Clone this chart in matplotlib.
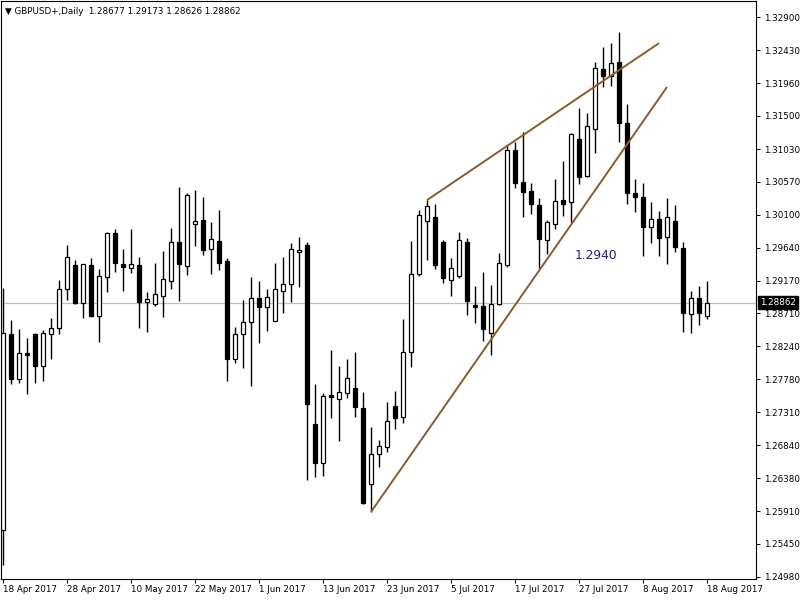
import matplotlib
matplotlib.use("Agg")
import matplotlib.pyplot as plt
import matplotlib.transforms as mtransforms
import numpy as np

# ---- data (GBPUSD+, Daily, 18 Apr 2017 .. 18 Aug 2017, one bar per trading day) ----
opens = [1.2564, 1.2842, 1.2778, 1.2815, 1.2842, 1.2796, 1.2842, 1.2850, 1.2905, 1.2939,
         1.2886, 1.2939, 1.2867, 1.2922, 1.2985, 1.2941, 1.2935, 1.2939, 1.2887, 1.2884,
         1.2895, 1.2917, 1.2972, 1.2938, 1.2997, 1.3003, 1.2962, 1.2973, 1.2945, 1.2806,
         1.2842, 1.2859, 1.2893, 1.2880, 1.2860, 1.2902, 1.2912, 1.2958, 1.2968, 1.2714,
         1.2659, 1.2755, 1.2750, 1.2758, 1.2765, 1.2737, 1.2630, 1.2672, 1.2682, 1.2740,
         1.2724, 1.2816, 1.2927, 1.3001, 1.3007, 1.2972, 1.2918, 1.2924, 1.2972, 1.2883,
         1.2881, 1.2843, 1.2884, 1.2939, 1.3102, 1.3057, 1.3044, 1.3024, 1.2975, 1.2997,
         1.3031, 1.3028, 1.3117, 1.3065, 1.3132, 1.3216, 1.3207, 1.3226, 1.3140, 1.3041,
         1.3035, 1.2993, 1.3004, 1.2979, 1.3001, 1.2963, 1.2870, 1.2893, 1.28677]
highs = [1.2907, 1.2861, 1.2849, 1.2836, 1.2843, 1.2847, 1.2864, 1.2918, 1.2968, 1.2946,
         1.2941, 1.2949, 1.2934, 1.2986, 1.2990, 1.2962, 1.2990, 1.2951, 1.2901, 1.2942,
         1.2959, 1.2992, 1.3050, 1.3041, 1.3045, 1.3035, 1.3000, 1.3017, 1.2949, 1.2852,
         1.2890, 1.2922, 1.2917, 1.2905, 1.2942, 1.2951, 1.2970, 1.2979, 1.2972, 1.2771,
         1.2758, 1.2819, 1.2796, 1.2806, 1.2816, 1.2760, 1.2710, 1.2692, 1.2745, 1.2761,
         1.2863, 1.2973, 1.3017, 1.3031, 1.3026, 1.2975, 1.2949, 1.2986, 1.2977, 1.2910,
         1.2929, 1.2911, 1.2956, 1.3109, 1.3113, 1.3127, 1.3055, 1.3034, 1.3003, 1.3061,
         1.3086, 1.3126, 1.3161, 1.3154, 1.3226, 1.3248, 1.3253, 1.3269, 1.3167, 1.3061,
         1.3055, 1.3028, 1.3016, 1.3034, 1.3024, 1.2972, 1.2902, 1.2910, 1.29173]
lows = [1.2515, 1.2771, 1.2772, 1.2757, 1.2772, 1.2775, 1.2806, 1.2842, 1.2890, 1.2884,
        1.2864, 1.2866, 1.2830, 1.2901, 1.2929, 1.2902, 1.2928, 1.2850, 1.2844, 1.2881,
        1.2866, 1.2905, 1.2888, 1.2925, 1.2966, 1.2953, 1.2927, 1.2932, 1.2775, 1.2801,
        1.2794, 1.2768, 1.2829, 1.2846, 1.2860, 1.2871, 1.2887, 1.2908, 1.2635, 1.2639,
        1.2641, 1.2723, 1.2690, 1.2751, 1.2724, 1.2601, 1.2590, 1.2654, 1.2675, 1.2707,
        1.2716, 1.2795, 1.2924, 1.2946, 1.2934, 1.2914, 1.2895, 1.2921, 1.2869, 1.2857,
        1.2832, 1.2812, 1.2883, 1.2936, 1.3048, 1.3007, 1.3011, 1.2935, 1.2955, 1.2990,
        1.3009, 1.3000, 1.3054, 1.3064, 1.3098, 1.3191, 1.3192, 1.3113, 1.3026, 1.3014,
        1.2952, 1.2970, 1.2952, 1.2941, 1.2958, 1.2844, 1.2843, 1.2854, 1.28626]
closes = [1.2843, 1.2778, 1.2815, 1.2812, 1.2796, 1.2843, 1.2850, 1.2905, 1.2951, 1.2886,
          1.2941, 1.2867, 1.2924, 1.2985, 1.2942, 1.2936, 1.2941, 1.2887, 1.2891, 1.2898,
          1.2919, 1.2972, 1.2941, 1.3038, 1.3001, 1.2960, 1.2976, 1.2942, 1.2806, 1.2842,
          1.2859, 1.2893, 1.2880, 1.2894, 1.2905, 1.2912, 1.2962, 1.2960, 1.2743, 1.2659,
          1.2754, 1.2753, 1.2760, 1.2779, 1.2738, 1.2603, 1.2672, 1.2683, 1.2719, 1.2723,
          1.2816, 1.2927, 1.3010, 1.3023, 1.2939, 1.2921, 1.2935, 1.2975, 1.2888, 1.2880,
          1.2849, 1.2884, 1.2942, 1.3102, 1.3055, 1.3042, 1.3026, 1.2976, 1.3000, 1.3030,
          1.3026, 1.3125, 1.3064, 1.3136, 1.3218, 1.3207, 1.3225, 1.3140, 1.3041, 1.3035,
          1.2993, 1.3004, 1.2977, 1.3007, 1.2965, 1.2871, 1.2893, 1.2871, 1.28862]

date_tick_bars = [0, 8, 16, 24, 32, 40, 48, 56, 64, 72, 80, 88]
date_tick_labels = ["18 Apr 2017", "28 Apr 2017", "10 May 2017", "22 May 2017",
                    "1 Jun 2017", "13 Jun 2017", "23 Jun 2017", "5 Jul 2017",
                    "17 Jul 2017", "27 Jul 2017", "8 Aug 2017", "18 Aug 2017"]
price_ticks = [1.32900, 1.32430, 1.31960, 1.31500, 1.31030, 1.30570, 1.30100, 1.29640,
               1.29170, 1.28710, 1.28240, 1.27780, 1.27310, 1.26840, 1.26380, 1.25910,
               1.25450, 1.24980]

# trend lines (bar index, price)
trend1_bars = [53, 82]
trend1_prices = [1.3031, 1.3253]
trend2_bars = [46, 83]
trend2_prices = [1.2590, 1.3191]
note_text = "1.2940"
note_bar = 71.4
note_price = 1.2952

bid_price = 1.28862
header = "\u25BC GBPUSD+,Daily  1.28677 1.29173 1.28626 1.28862"

# ---- figure ----
plt.rcParams['font.family'] = ['DejaVu Sans']
fs = 6.3
fig = plt.figure(figsize=(8, 6), dpi=100)
fig.patch.set_facecolor('white')
ax = fig.add_axes([1 / 800, 21 / 600, 755 / 800, 578 / 600])
ax.set_facecolor('white')

o = np.array(opens)
h = np.array(highs)
l = np.array(lows)
c = np.array(closes)
x = np.arange(len(o))
up = c >= o

ax.axhline(bid_price, color='#c0c0c0', lw=0.9, zorder=1)
ax.vlines(x, l, h, color='black', lw=1.0, zorder=2)
ax.bar(x, np.abs(c - o), bottom=np.minimum(o, c), width=0.55,
       color=np.where(up, 'white', 'black'), edgecolor='black', linewidth=0.9, zorder=3)

ax.plot(trend1_bars, trend1_prices, color='#8B5A2B', lw=1.4, zorder=4, solid_capstyle='butt')
ax.plot(trend2_bars, trend2_prices, color='#8B5A2B', lw=1.4, zorder=4, solid_capstyle='butt')
ax.text(note_bar, note_price, note_text, color='#1c1c80', fontsize=8.8, ha='left', va='center', zorder=5)

ax.set_xlim(-0.25, 94.125)
ax.set_ylim(1.249516, 1.331263)

for s in ax.spines.values():
    s.set_color('black')
    s.set_linewidth(0.8)

ax.yaxis.tick_right()
ax.set_yticks(price_ticks)
ax.set_yticklabels([f"{v:.5f}" for v in price_ticks])
ax.tick_params(axis='y', direction='out', length=3, width=0.7, pad=2.5, labelsize=fs, colors='black')

ax.set_xticks(date_tick_bars)
ax.set_xticklabels(date_tick_labels, ha='left')
ax.tick_params(axis='x', direction='out', length=3, width=0.7, pad=1.5, labelsize=fs, colors='black')

fig.text(5 / 800, 1 - 12 / 600, header, fontsize=fs, ha='left', va='center', color='black')

trans = mtransforms.blended_transform_factory(fig.transFigure, ax.transData)
fig.text(760 / 800, bid_price, f"{bid_price:.5f}", transform=trans, color='white', fontsize=fs,
         ha='left', va='center',
         bbox=dict(boxstyle='square,pad=0.25', fc='black', ec='black'))

fig.savefig('out.png', dpi=100, facecolor='white')
